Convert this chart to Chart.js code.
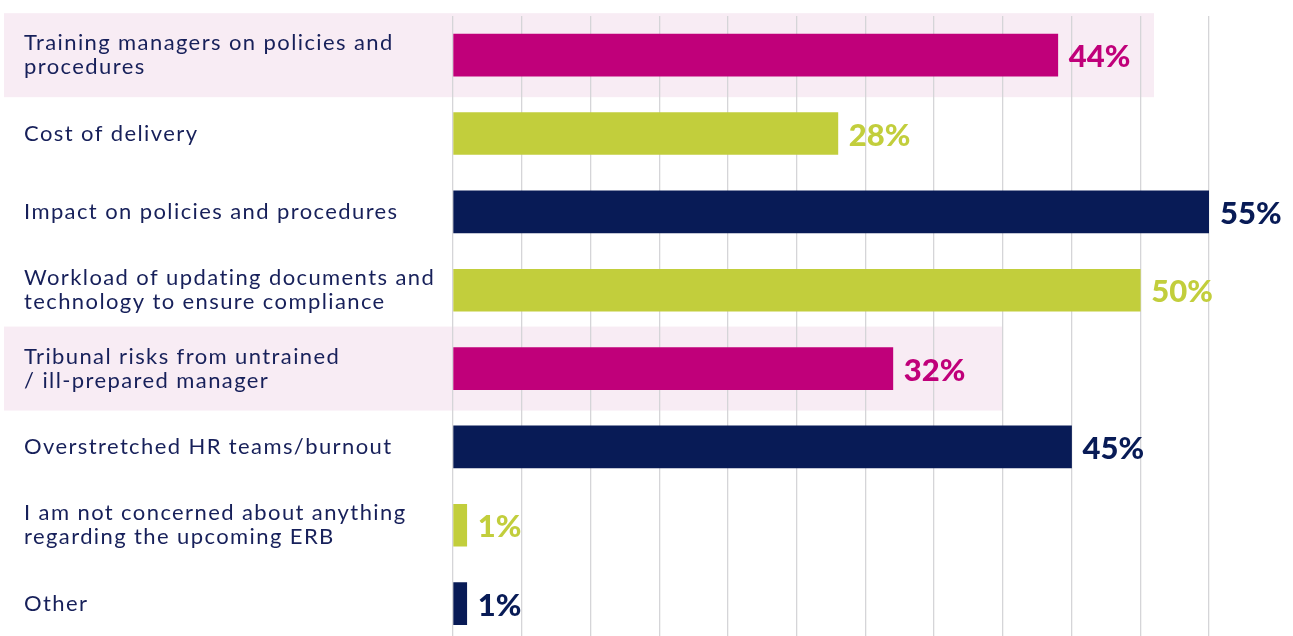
<!DOCTYPE html>
<html>
<head>
<meta charset="utf-8">
<script src="https://cdn.jsdelivr.net/npm/chart.js@4"></script>
<style>
  html, body { margin: 0; padding: 0; background: #fff; overflow: hidden; }
</style>
</head>
<body>
<canvas id="chart" width="1293" height="670"></canvas>
<script>
const categories = [
  ["Training managers on policies and", "procedures"],
  "Cost of delivery",
  "Impact on policies and procedures",
  ["Workload of updating documents and", "technology to ensure compliance"],
  ["Tribunal risks from untrained", "/ ill-prepared manager"],
  "Overstretched HR teams/burnout",
  ["I am not concerned about anything", "regarding the upcoming ERB"],
  "Other"
];
const values = [44, 28, 55, 50, 32, 45, 1, 1];
const barColors = ["#C0007A", "#C2CE3C", "#081B56", "#C2CE3C", "#C0007A", "#081B56", "#C2CE3C", "#081B56"];
// rows with a pink highlight band, and how far (in %) the band reaches
const highlightRows = [0, 4];
const highlightEnds = [51, 40];

const textColor = "#17205A";

const highlightPlugin = {
  id: "highlight",
  beforeDraw(chart) {
    const { ctx, scales } = chart;
    // wider tracking for the category labels (drawn after this hook)
    ctx.letterSpacing = "1.4px";
    ctx.save();
    ctx.fillStyle = "#F8ECF4";
    highlightRows.forEach((row, i) => {
      const yc = scales.y.getPixelForValue(row);
      const right = scales.x.getPixelForValue(highlightEnds[i]);
      ctx.fillRect(4, yc - 42, right - 4, 84);
    });
    ctx.restore();
  }
};

const valueLabels = {
  id: "valueLabels",
  afterDatasetsDraw(chart) {
    const { ctx } = chart;
    const meta = chart.getDatasetMeta(0);
    ctx.save();
    ctx.letterSpacing = "0px";
    ctx.font = "900 31px Lato";
    ctx.textBaseline = "middle";
    ctx.textAlign = "left";
    meta.data.forEach((bar, i) => {
      ctx.fillStyle = barColors[i];
      ctx.fillText(values[i] + "%", bar.x + 11, bar.y + 2);
    });
    ctx.restore();
  }
};

new Chart(document.getElementById("chart").getContext("2d"), {
  type: "bar",
  data: {
    labels: categories,
    datasets: [{
      data: values,
      backgroundColor: barColors,
      barThickness: 42,
      borderWidth: 0
    }]
  },
  options: {
    indexAxis: "y",
    responsive: false,
    animation: false,
    layout: { padding: { left: 24, top: 16, bottom: 18, right: 84 } },
    plugins: { legend: { display: false }, tooltip: { enabled: false } },
    scales: {
      x: {
        min: 0,
        max: 55,
        ticks: { display: false, stepSize: 5 },
        grid: { color: "#D5D5D8", lineWidth: 1.3, drawTicks: false },
        border: { display: false }
      },
      y: {
        afterFit(scale) { scale.width = 429; },
        grid: { display: false },
        border: { display: false },
        ticks: {
          crossAlign: "far",
          color: textColor,
          font: { family: "Lato", size: 22, lineHeight: 1.1 }
        }
      }
    }
  },
  plugins: [highlightPlugin, valueLabels]
});
</script>
</body>
</html>
